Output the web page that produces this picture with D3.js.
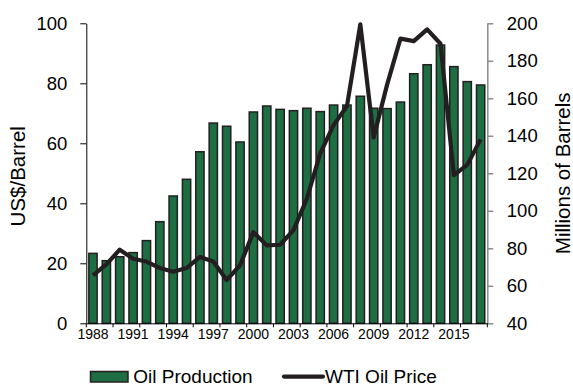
<!DOCTYPE html>
<html>
<head>
<meta charset="utf-8">
<script src="https://cdn.jsdelivr.net/npm/d3@7"></script>
<style>
  html, body { margin: 0; padding: 0; background: #fff; }
  svg { display: block; }
  text { font-family: "Liberation Sans", Arial, Helvetica, sans-serif; fill: #000; }
</style>
</head>
<body>
<svg id="chart" width="573" height="385"></svg>
<script>
// ---- data ----
const years = [1988,1989,1990,1991,1992,1993,1994,1995,1996,1997,1998,1999,2000,2001,2002,2003,2004,2005,2006,2007,2008,2009,2010,2011,2012,2013,2014,2015,2016,2017];
const oilProduction = [77.3,73.4,75.5,77.7,84.1,94.2,107.9,116.8,131.5,146.8,145.1,136.7,152.7,155.9,154.1,153.4,154.7,152.9,156.4,156.4,161.1,154.7,154.5,158.0,173.1,177.9,188.4,176.9,168.9,167.1];
const wtiPrice = [15.97,19.64,24.53,21.54,20.58,18.43,17.20,18.43,22.12,20.61,14.42,19.34,30.38,25.98,26.18,31.08,41.51,56.64,66.05,72.34,99.67,61.95,79.48,94.88,94.05,97.98,93.17,49.4,52.8,61.3];
const leftTicks = [0,20,40,60,80,100];
const rightTicks = [40,60,80,100,120,140,160,180,200];
const xLabelYears = [1988,1991,1994,1997,2000,2003,2006,2009,2012,2015];
const seriesNames = ["Oil Production","WTI Oil Price"];
const axisTitles = ["US$/Barrel","Millions of Barrels"];

// ---- layout ----
const svg = d3.select("#chart");
const pL = 86.3, pR = 487.3, pT = 23.3, pB = 323.3;
const green = "#1d6e42", dark = "#231f20";

const x = d3.scaleBand().domain(years).range([pL, pR]).paddingInner(0.38).paddingOuter(0.19);
const yL = d3.scaleLinear().domain([0, 100]).range([pB, pT]);
const yR = d3.scaleLinear().domain([40, 200]).range([pB, pT]);

// bars
svg.append("g").selectAll("rect").data(years).join("rect")
  .attr("x", d => x(d))
  .attr("width", x.bandwidth())
  .attr("y", (d, i) => yR(oilProduction[i]))
  .attr("height", (d, i) => yR(40) - yR(oilProduction[i]))
  .attr("fill", green)
  .attr("stroke", dark)
  .attr("stroke-width", 1.5);

// line
const line = d3.line()
  .x((d, i) => x(years[i]) + x.bandwidth() / 2)
  .y(d => yL(d))
  .curve(d3.curveLinear);
svg.append("path").datum(wtiPrice)
  .attr("d", line)
  .attr("fill", "none")
  .attr("stroke", dark)
  .attr("stroke-width", 4.2)
  .attr("stroke-linejoin", "round");

// left axis
const gL = svg.append("g").attr("transform", `translate(${pL},0)`)
  .call(d3.axisLeft(yL).tickValues(leftTicks).tickSize(6).tickSizeOuter(0).tickPadding(13));
gL.select(".domain").attr("stroke", "#000");
gL.selectAll(".tick line").attr("stroke", "#000");
gL.selectAll("text").attr("font-size", 18.5).attr("font-family", null);

// right axis
const gR = svg.append("g").attr("transform", `translate(${pR},0)`)
  .call(d3.axisRight(yR).tickValues(rightTicks).tickSize(6).tickSizeOuter(0).tickPadding(13.5));
gR.select(".domain").attr("stroke", "#8a8a8a").attr("stroke-width", 1.5);
gR.selectAll(".tick line").attr("stroke", "#8a8a8a").attr("stroke-width", 1.5);
gR.selectAll("text").attr("font-size", 18.5).attr("font-family", null);

// bottom axis
const gB = svg.append("g").attr("transform", `translate(0,${pB})`)
  .call(d3.axisBottom(x).tickValues(xLabelYears).tickSize(0).tickPadding(6).tickSizeOuter(0));
gB.select(".domain").attr("stroke", "#000");
gB.selectAll("text").attr("font-size", 14).attr("font-family", null);
// boundary tick marks every two categories
const step = x.step();
const boundaries = d3.range(0, years.length + 1, 2);
svg.append("g").selectAll("line").data(boundaries).join("line")
  .attr("x1", k => x.range()[0] + k * step)
  .attr("x2", k => x.range()[0] + k * step)
  .attr("y1", pB)
  .attr("y2", pB + 4)
  .attr("stroke", "#000");

// axis titles
svg.append("text")
  .attr("transform", `translate(24.5,${(pT + pB) / 2 + 3}) rotate(-90)`)
  .attr("text-anchor", "middle")
  .attr("font-size", 20.5)
  .text(axisTitles[0]);
svg.append("text")
  .attr("transform", `translate(569.5,${(pT + pB) / 2}) rotate(-90)`)
  .attr("text-anchor", "middle")
  .attr("font-size", 20.5)
  .text(axisTitles[1]);

// legend
const lg = svg.append("g");
lg.append("rect").attr("x", 90.5).attr("y", 371.5).attr("width", 37.5).attr("height", 10.5)
  .attr("fill", green).attr("stroke", dark).attr("stroke-width", 1.5);
lg.append("text").attr("x", 133.3).attr("y", 382.5).attr("font-size", 19).text(seriesNames[0]);
lg.append("line").attr("x1", 284).attr("x2", 323).attr("y1", 376.6).attr("y2", 376.6)
  .attr("stroke", dark).attr("stroke-width", 4.2).attr("stroke-linecap", "round");
lg.append("text").attr("x", 325).attr("y", 382.5).attr("font-size", 19).text(seriesNames[1]);
</script>
</body>
</html>
